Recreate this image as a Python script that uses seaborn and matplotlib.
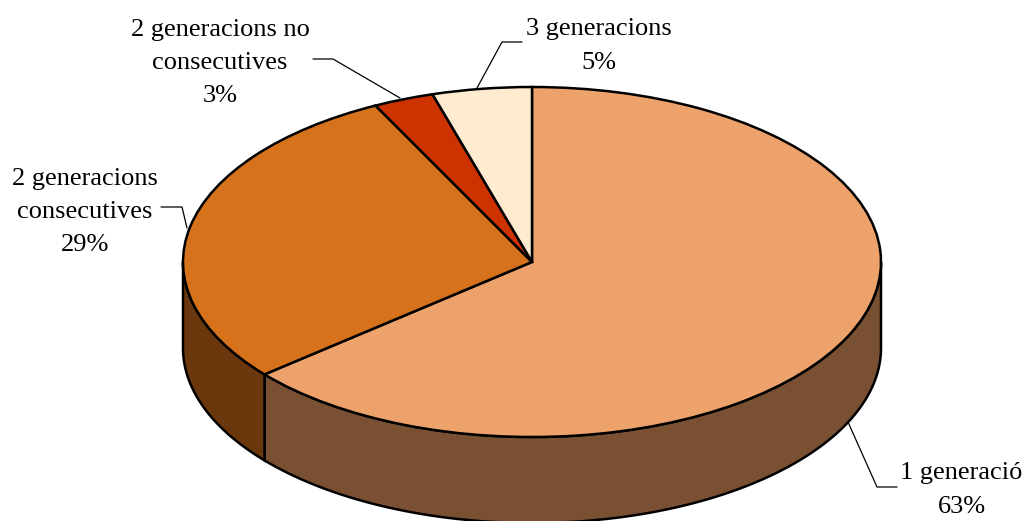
import numpy as np
import matplotlib
matplotlib.use('Agg')
import matplotlib.pyplot as plt
import seaborn as sns

# Dades
categories = ['1 generació', '2 generacions\nconsecutives', '2 generacions no\nconsecutives', '3 generacions']
values = [63.9, 28.7, 2.8, 4.6]
labels_pct = ['63%', '29%', '3%', '5%']
top_colors = ['#EEA26B', '#D5721B', '#CC3300', '#FFEBD0']
side_colors = ['#7A5033', '#6B380D', '#6B1A00', '#80765F']

sns.set_theme(style='white')
plt.rcParams['font.family'] = ['Liberation Serif', 'DejaVu Serif']

W, H = 1023, 521
cx, cy, rx, ry, depth = 532, 262, 349, 175, 86


def px(x, y):
    return (x - cx) / rx, (cy - y) / ry


fig = plt.figure(figsize=(W / 100, H / 100), dpi=100)
ax = fig.add_axes([0, 0, 1, 1])

# Cara superior
ax.pie(values, startangle=90, counterclock=False, colors=sns.color_palette(top_colors),
       wedgeprops={'edgecolor': 'black', 'linewidth': 1.8, 'zorder': 3})
ax.set_aspect('auto')
ax.set_xlim(px(0, 0)[0], px(W, 0)[0])
ax.set_ylim(px(0, H)[1], px(0, 0)[1])

# Paret lateral, nomes la meitat de sota es veu
d = depth / ry
ends = 90 - np.cumsum(values) * 3.6
starts = np.r_[90, ends[:-1]]
for a0, a1, col in zip(starts, ends, side_colors):
    hi, lo = min(a0, 0), max(a1, -180)
    if hi <= lo:
        continue
    t = np.radians(np.linspace(hi, lo, 100))
    xs, ys = np.cos(t), np.sin(t)
    ax.fill(np.r_[xs, xs[::-1]], np.r_[ys, ys[::-1] - d], facecolor=col,
            edgecolor='black', linewidth=1.8, zorder=2)

# Etiquetes
label_pos = [(961.5, 490), (85, 212), (220, 63), (599, 46)]
for name, pct, (lx, ly) in zip(categories, labels_pct, label_pos):
    x, y = px(lx, ly)
    ax.text(x, y, name + '\n' + pct, ha='center', va='center', fontsize=19,
            color='black', linespacing=1.65, zorder=5)

# Linies guia
leaders = [[(848, 422), (877, 487), (897, 487)],
           [(161, 207), (182, 207), (187, 228)],
           [(313, 59), (333, 59), (400, 98)],
           [(522, 42), (502, 42), (477, 88)]]
for line in leaders:
    pts = np.array([px(a, b) for a, b in line])
    ax.plot(pts[:, 0], pts[:, 1], color='black', linewidth=0.9, zorder=4)

fig.savefig('out.png', dpi=100, facecolor='white')
